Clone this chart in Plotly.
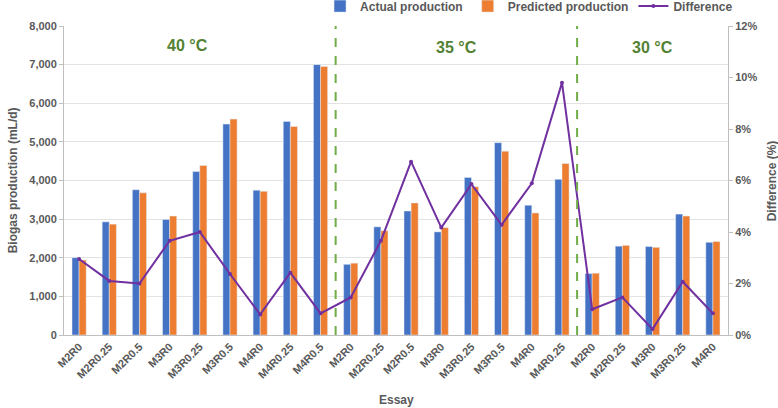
import plotly.graph_objects as go

# essays grouped by temperature
essays = ["M2R0", "M2R0.25", "M2R0.5", "M3R0", "M3R0.25", "M3R0.5", "M4R0", "M4R0.25", "M4R0.5",
          "M2R0", "M2R0.25", "M2R0.5", "M3R0", "M3R0.25", "M3R0.5", "M4R0", "M4R0.25",
          "M2R0", "M2R0.25", "M3R0", "M3R0.25", "M4R0"]
actual = [2000, 2930, 3760, 2990, 4230, 5460, 3750, 5530, 7000,
          1830, 2800, 3210, 2670, 4080, 4980, 3360, 4030,
          1590, 2300, 2290, 3130, 2400]
predicted = [1940, 2870, 3680, 3080, 4390, 5590, 3720, 5400, 6950,
             1860, 2700, 3420, 2780, 3840, 4760, 3160, 4440,
             1600, 2320, 2270, 3080, 2420]
difference = [2.95, 2.1, 2.0, 3.66, 4.0, 2.37, 0.8, 2.42, 0.84,
              1.46, 3.66, 6.73, 4.17, 5.86, 4.28, 5.89, 9.8,
              1.0, 1.46, 0.23, 2.07, 0.84]
temperatures = ["40 °C", "35 °C", "30 °C"]
group_sizes = [9, 8, 5]

xs = list(range(len(essays)))
grey = "#595959"
green = "#548235"
title_font = dict(size=12, color=grey, weight="bold")

fig = go.Figure()
fig.add_trace(go.Bar(x=xs, y=actual, name="Actual production", marker_color="#4472C4"))
fig.add_trace(go.Bar(x=xs, y=predicted, name="Predicted production", marker_color="#ED7D31"))
fig.add_trace(go.Scatter(x=xs, y=difference, name="Difference", yaxis="y2",
                         mode="lines+markers", line=dict(color="#7030A0", width=2),
                         marker=dict(size=4, color="#7030A0")))

# separators and temperature labels
start = 0
for i, (t, n) in enumerate(zip(temperatures, group_sizes)):
    if i > 0:
        fig.add_shape(type="line", xref="x", yref="paper", x0=start - 0.5, x1=start - 0.5,
                      y0=0, y1=1, line=dict(color="#70AD47", width=2, dash="dash"))
    mid = start + (n - 1) / 2 if i > 0 else 3.6
    fig.add_annotation(x=mid, y=7450 if i > 0 else 7500, text=t, showarrow=False,
                       font=dict(size=16, color=green, weight="bold"))
    start += n

# axis titles placed by hand
fig.add_annotation(x=-0.077, y=0.5, xref="paper", yref="paper", xanchor="center",
                   text="Biogas production (mL/d)", textangle=-90, showarrow=False, font=title_font)
fig.add_annotation(x=1.066, y=0.5, xref="paper", yref="paper", xanchor="center",
                   text="Difference (%)", textangle=-90, showarrow=False, font=title_font)
fig.add_annotation(x=0.5, y=-0.21, xref="paper", yref="paper", yanchor="middle",
                   text="Essay", showarrow=False, font=title_font)

fig.update_layout(
    width=778, height=408,
    margin=dict(l=64, r=50, t=26, b=73),
    paper_bgcolor="white", plot_bgcolor="white",
    font=dict(family="Liberation Sans, Arial", color=grey, size=11),
    barmode="group", bargap=0.53, bargroupgap=0,
    legend=dict(orientation="h", x=0.68, xanchor="center", y=0.985, yanchor="middle",
                xref="container", yref="container", itemwidth=30,
                font=dict(size=12, color=grey, weight="bold")),
    xaxis=dict(tickmode="array", tickvals=xs, ticktext=essays, tickangle=-45,
               range=[-0.5, len(xs) - 0.5], showline=True, linecolor="#bfbfbf",
               automargin=False, tickfont=dict(size=11, weight="bold")),
    yaxis=dict(range=[0, 8000], dtick=1000, tickformat=",", showgrid=True, gridcolor="#e3e3e3",
               showline=True, linecolor="#bfbfbf", ticks="outside", ticklen=4, tickcolor="#bfbfbf",
               automargin=False, tickfont=dict(size=11, weight="bold")),
    yaxis2=dict(range=[0, 12], dtick=2, ticksuffix="%", overlaying="y", side="right",
                showgrid=False, showline=True, linecolor="#bfbfbf", ticks="outside", ticklen=4,
                tickcolor="#bfbfbf", automargin=False, tickfont=dict(size=11, weight="bold")),
)

fig.write_html("out.html", config={"displayModeBar": False},
               post_script="document.body.style.margin='0px';")
